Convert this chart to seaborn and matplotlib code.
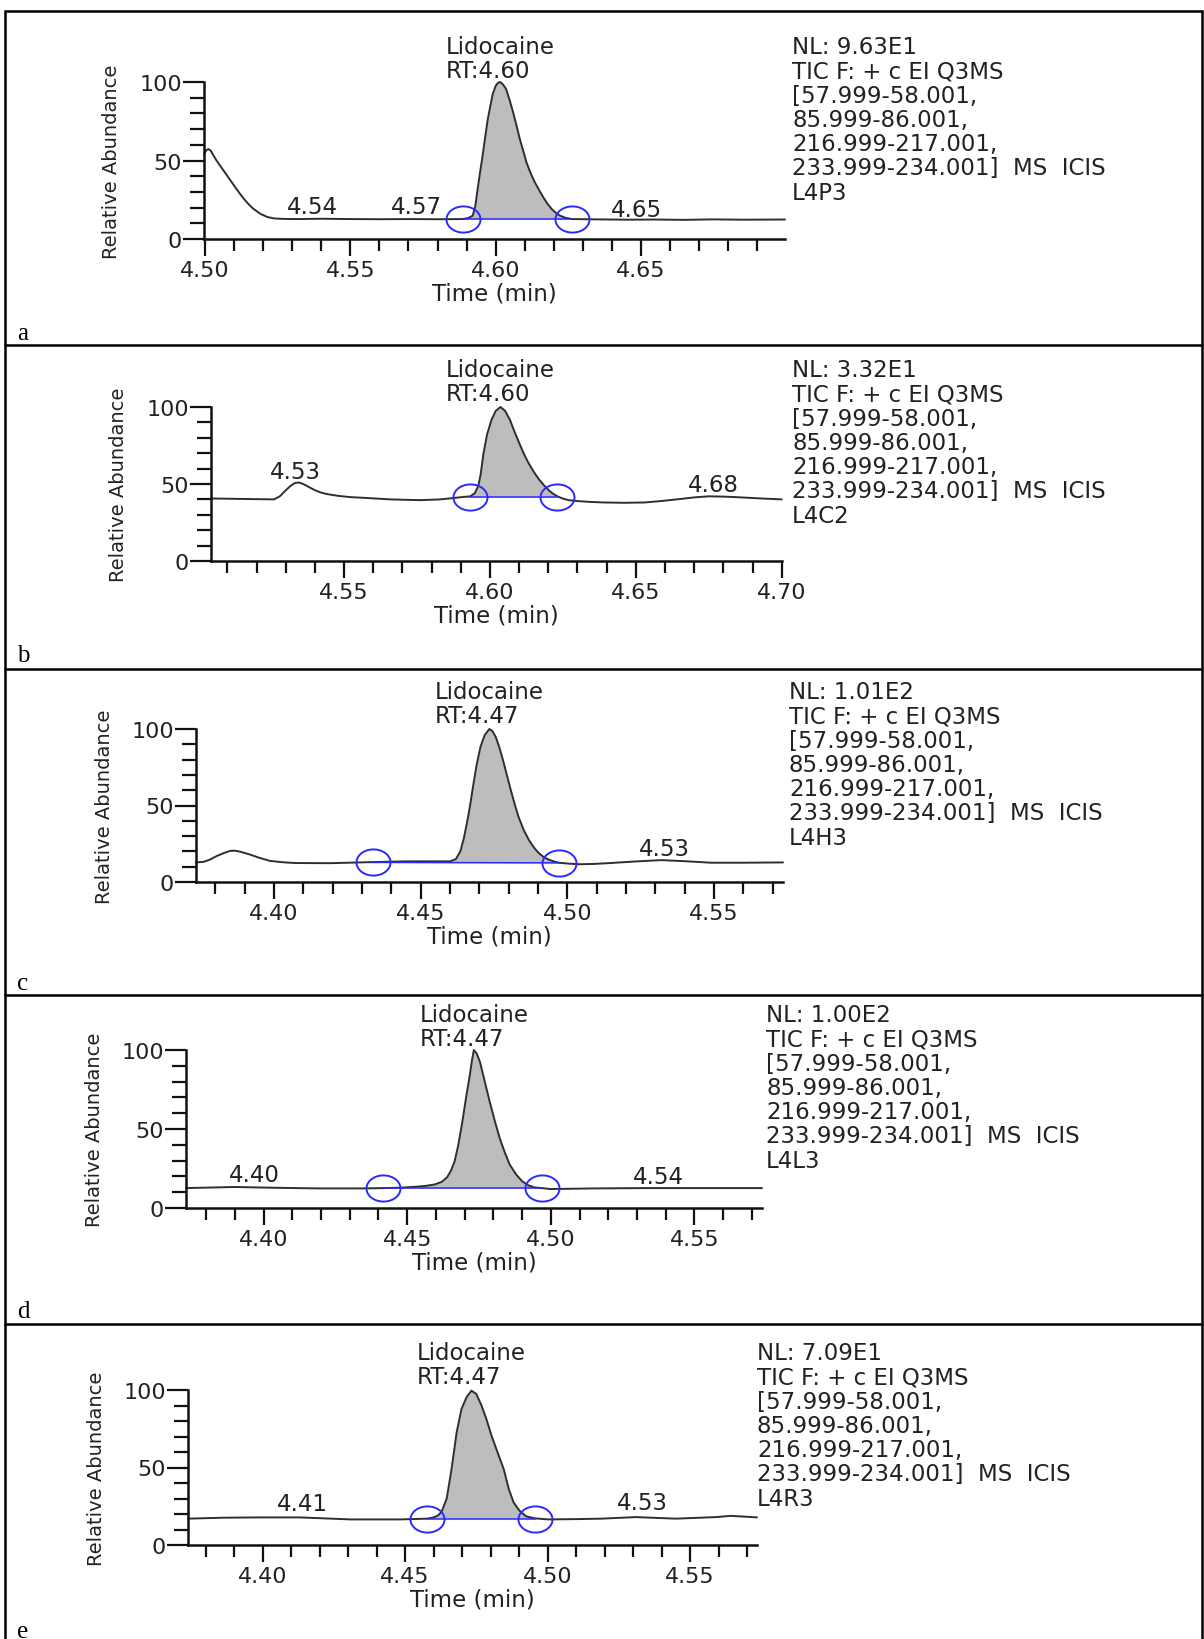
import numpy as np
import pandas as pd
import matplotlib
matplotlib.use("Agg")
import matplotlib.pyplot as plt
import seaborn as sns
from matplotlib.path import Path
from matplotlib.lines import Line2D
from matplotlib.ticker import MultipleLocator, FixedLocator, FormatStrFormatter
from matplotlib.transforms import blended_transform_factory

# ------------------------------------------------------------------ data
panel_letters = ["a", "b", "c", "d", "e"]
compound = "Lidocaine"
rt_labels = ["RT:4.60", "RT:4.60", "RT:4.47", "RT:4.47", "RT:4.47"]
nl_values = ["NL: 9.63E1", "NL: 3.32E1", "NL: 1.01E2", "NL: 1.00E2", "NL: 7.09E1"]
scan_filter = ["TIC F: + c EI Q3MS", "[57.999-58.001,", "85.999-86.001,",
               "216.999-217.001,", "233.999-234.001]  MS  ICIS"]
sample_ids = ["L4P3", "L4C2", "L4H3", "L4L3", "L4R3"]

time_a = [4.4997, 4.5005, 4.5012, 4.5020, 4.5027, 4.5040, 4.5055, 4.5076, 4.5093,
          4.5110, 4.5128, 4.5145, 4.5165, 4.5191, 4.5215, 4.5238, 4.5270, 4.5319,
          4.5400, 4.5500, 4.5600, 4.5700, 4.5800, 4.5886, 4.5905, 4.5921, 4.5930,
          4.5938, 4.5946, 4.5955, 4.5964, 4.5973, 4.5982, 4.5990, 4.6000, 4.6008,
          4.6015, 4.6025, 4.6036, 4.6048, 4.6060, 4.6072, 4.6083, 4.6095, 4.6106,
          4.6120, 4.6135, 4.6150, 4.6164, 4.6178, 4.6193, 4.6208, 4.6222, 4.6240,
          4.6262, 4.6350, 4.6450, 4.6550, 4.6650, 4.6750, 4.6850, 4.6995]
abund_a = [54.0, 56.5, 57.3, 56.3, 54.0, 50.0, 46.0, 40.5, 36.0,
           31.5, 27.0, 23.2, 19.5, 16.0, 14.0, 13.1, 12.8, 12.7,
           12.9, 12.7, 12.6, 12.7, 12.6, 12.7, 13.3, 14.8, 21.0,
           31.8, 42.0, 53.0, 65.0, 76.4, 85.0, 92.4, 97.5, 99.5,
           100.0, 98.5, 95.5, 88.5, 80.7, 72.0, 63.7, 56.0, 48.8,
           42.0, 36.0, 31.0, 26.5, 22.5, 19.0, 16.5, 14.8, 13.5,
           12.7, 12.5, 12.3, 12.4, 12.2, 12.5, 12.3, 12.4]

time_b = [4.5044, 4.5150, 4.5260, 4.5280, 4.5298, 4.5315, 4.5330, 4.5345, 4.5360,
          4.5380, 4.5400, 4.5420, 4.5440, 4.5480, 4.5520, 4.5570, 4.5660, 4.5760,
          4.5830, 4.5880, 4.5910, 4.5933, 4.5948, 4.5960, 4.5968, 4.5978, 4.5990,
          4.6005, 4.6020, 4.6036, 4.6052, 4.6069, 4.6082, 4.6096, 4.6114, 4.6132,
          4.6150, 4.6168, 4.6186, 4.6204, 4.6218, 4.6231, 4.6250, 4.6270, 4.6294,
          4.6340, 4.6390, 4.6460, 4.6530, 4.6590, 4.6640, 4.6700, 4.6750, 4.6800,
          4.6840, 4.6930, 4.7000]
abund_b = [40.6, 40.3, 40.0, 42.0, 45.5, 48.5, 50.5, 51.0, 50.0,
           48.0, 46.0, 44.5, 43.5, 42.3, 41.5, 41.0, 40.0, 39.5,
           40.0, 41.0, 41.6, 42.0, 44.0, 48.7, 56.0, 70.0, 82.0,
           91.5, 97.5, 100.0, 97.5, 91.5, 85.0, 78.6, 70.5, 63.7,
           58.0, 53.0, 49.0, 45.5, 43.5, 42.0, 40.5, 39.5, 39.0,
           38.4, 38.0, 37.8, 38.0, 39.0, 40.0, 41.3, 42.0, 41.8,
           41.5, 40.6, 40.0]

time_c = [4.3734, 4.3760, 4.3780, 4.3805, 4.3830, 4.3850, 4.3865, 4.3885, 4.3917,
          4.3950, 4.3986, 4.4030, 4.4073, 4.4190, 4.4336, 4.4450, 4.4600, 4.4620,
          4.4635, 4.4647, 4.4661, 4.4670, 4.4678, 4.4690, 4.4704, 4.4718, 4.4734,
          4.4745, 4.4756, 4.4769, 4.4782, 4.4795, 4.4808, 4.4821, 4.4834, 4.4851,
          4.4869, 4.4886, 4.4903, 4.4920, 4.4938, 4.4955, 4.4970, 4.5005, 4.5040,
          4.5090, 4.5147, 4.5230, 4.5320, 4.5400, 4.5490, 4.5600, 4.5735]
abund_c = [12.8, 13.2, 14.5, 17.0, 19.0, 20.3, 20.5, 19.8, 18.0,
           15.8, 13.8, 12.9, 12.4, 12.3, 13.0, 13.5, 13.5, 15.0,
           20.0, 28.5, 42.0, 52.0, 62.0, 76.0, 88.5, 96.0, 100.0,
           98.5, 94.7, 87.5, 78.6, 69.0, 59.4, 50.5, 42.3, 34.0,
           27.4, 22.5, 18.8, 16.2, 14.5, 13.4, 12.6, 12.0, 11.6,
           11.8, 12.4, 13.4, 14.3, 13.6, 12.6, 12.6, 12.8]

time_d = [4.3730, 4.3900, 4.4040, 4.4190, 4.4350, 4.4417, 4.4480, 4.4526, 4.4565,
          4.4596, 4.4620, 4.4639, 4.4652, 4.4665, 4.4678, 4.4692, 4.4705, 4.4718,
          4.4725, 4.4732, 4.4742, 4.4753, 4.4770, 4.4787, 4.4805, 4.4822, 4.4840,
          4.4857, 4.4880, 4.4901, 4.4922, 4.4944, 4.4970, 4.4997, 4.5153, 4.5327,
          4.5500, 4.5735]
abund_d = [12.6, 13.3, 12.8, 12.4, 12.4, 12.6, 12.9, 13.4, 14.0,
           14.9, 16.5, 19.5, 23.5, 29.5, 40.0, 54.7, 70.0, 84.2,
           93.0, 100.0, 97.8, 92.6, 80.0, 67.4, 55.0, 44.2, 35.0,
           27.4, 21.0, 16.8, 14.3, 13.0, 12.6, 12.0, 12.4, 12.6,
           12.6, 12.6]

time_e = [4.3738, 4.3860, 4.3990, 4.4130, 4.4240, 4.4310, 4.4480, 4.4577, 4.4600,
          4.4615, 4.4628, 4.4646, 4.4663, 4.4681, 4.4698, 4.4716, 4.4733, 4.4750,
          4.4768, 4.4785, 4.4803, 4.4824, 4.4846, 4.4864, 4.4881, 4.4902, 4.4925,
          4.4955, 4.5003, 4.5100, 4.5189, 4.5310, 4.5450, 4.5590, 4.5643, 4.5700,
          4.5735]
abund_e = [17.0, 17.6, 17.8, 17.8, 17.0, 16.5, 16.5, 17.0, 17.8,
           19.0, 21.4, 30.0, 49.0, 72.8, 87.8, 95.5, 99.6, 97.4,
           90.0, 81.4, 70.7, 60.0, 49.0, 36.0, 27.4, 22.0, 18.5,
           17.2, 16.5, 16.7, 17.0, 18.0, 17.0, 18.0, 18.8, 18.2,
           17.8]

apex_time = [4.6015, 4.6036, 4.4734, 4.4732, 4.4733]
boundary_time = [(4.5886, 4.6262), (4.5933, 4.6231), (4.4336, 4.4970),
                 (4.4417, 4.4970), (4.4577, 4.4955)]
boundary_abund = [(12.7, 12.7), (41.5, 41.5), (12.8, 12.5), (12.6, 12.6), (17.0, 17.0)]

label_text = [["4.54", "4.57", "4.65"], ["4.53", "4.68"], ["4.53"], ["4.40", "4.54"], ["4.41", "4.53"]]
label_time = [[4.5369, 4.5726, 4.6485], [4.5333, 4.6767], [4.5332], [4.3969, 4.5373], [4.4138, 4.5332]]
label_abund = [[20.4, 20.4, 19.0], [58.4, 50.0], [22.0], [21.0, 20.0], [26.8, 27.2]]

x_limits = [(4.4997, 4.6995), (4.5044, 4.7001), (4.3734, 4.5735), (4.3730, 4.5735), (4.3738, 4.5735)]

times = [time_a, time_b, time_c, time_d, time_e]
abunds = [abund_a, abund_b, abund_c, abund_d, abund_e]

# ------------------------------------------------------------------ layout (pixels)
W, H = 1204, 1640
axes_px = [  # left, right, top, bottom
    (204, 785, 83, 240),
    (211, 782, 408, 562),
    (196, 783, 730, 883),
    (186, 762, 1051, 1209),
    (188, 757, 1391, 1546),
]
block_x = [792, 792, 789, 766, 757]
first_line_center = [45, 368, 690, 1013, 1351]
letter_baseline = [340, 662, 990, 1318, 1638]
dividers = [346, 670, 996, 1325]

TXT = "#222222"
CURVE = "#2e2e2e"
FILL = "#bdbdbd"
BLUE = "#2a2aff"

sns.set_theme(style="ticks")
plt.rcParams["font.family"] = ["DejaVu Sans"]
plt.rcParams["text.color"] = TXT
plt.rcParams["axes.labelcolor"] = TXT
plt.rcParams["xtick.color"] = "#111111"
plt.rcParams["ytick.color"] = "#111111"
plt.rcParams["xtick.labelcolor"] = TXT
plt.rcParams["ytick.labelcolor"] = TXT

fig = plt.figure(figsize=(W / 100, H / 100), dpi=100)
fig.patch.set_facecolor("white")

theta = np.linspace(0, 2 * np.pi, 60)
ellipse = Path(np.column_stack([1.3 * np.cos(theta), np.sin(theta)]), closed=True)

FS = 16.5
FS_TICK = 16
for i in range(5):
    l, r, t, b = axes_px[i]
    ax = fig.add_axes([l / W, 1 - b / H, (r - l) / W, (b - t) / H])
    df = pd.DataFrame({"Time (min)": times[i], "Relative Abundance": abunds[i]})
    sns.lineplot(data=df, x="Time (min)", y="Relative Abundance", ax=ax,
                 color=CURVE, linewidth=1.4, estimator=None, sort=False)
    for ln in ax.lines:
        ln.set_clip_on(False)
        ln.set_solid_joinstyle("round")

    x = np.asarray(times[i])
    y = np.asarray(abunds[i])
    (t1, t2), (b1, b2) = boundary_time[i], boundary_abund[i]
    base = np.interp(x, [t1, t2], [b1, b2])
    mask = (x >= t1) & (x <= t2)
    ax.fill_between(x, y, base, where=mask & (y >= base), color=FILL, linewidth=0,
                    interpolate=True, zorder=1)
    ax.plot([t1, t2], [b1, b2], color=BLUE, linewidth=1.1, zorder=3, clip_on=False)
    ax.plot([t1, t2], [b1, b2], linestyle="none", marker=ellipse, markersize=24.5,
            markerfacecolor="none", markeredgecolor=BLUE, markeredgewidth=1.4,
            zorder=4, clip_on=False)

    ax.set_xlim(*x_limits[i])
    ax.set_ylim(0, 100)
    ax.xaxis.set_major_locator(MultipleLocator(0.05))
    ax.xaxis.set_minor_locator(MultipleLocator(0.01))
    ax.yaxis.set_major_locator(FixedLocator([0, 50, 100]))
    ax.yaxis.set_minor_locator(MultipleLocator(10))
    ax.xaxis.set_major_formatter(FormatStrFormatter("%.2f"))
    ax.set_facecolor("none")
    for s in ["top", "right"]:
        ax.spines[s].set_visible(False)
    for s in ["left", "bottom"]:
        ax.spines[s].set_linewidth(1.8)
        ax.spines[s].set_color("#111111")
    ax.tick_params(axis="x", which="major", length=12, width=1.6, pad=3, labelsize=FS_TICK)
    ax.tick_params(axis="x", which="minor", length=8.5, width=1.6)
    ax.tick_params(axis="y", which="major", length=15, width=1.6, pad=1, labelsize=FS_TICK)
    ax.tick_params(axis="y", which="minor", length=10, width=1.6)

    ax.set_xlabel("Time (min)", fontsize=FS)
    ax.xaxis.set_label_coords(0.5, -54 / (b - t))
    ax.xaxis.label.set_va("center")
    ax.set_ylabel("Relative Abundance", fontsize=14)
    ax.yaxis.set_label_coords(-92 / (r - l), 0.5)
    ax.yaxis.label.set_va("center")

    for txt, lx, ly in zip(label_text[i], label_time[i], label_abund[i]):
        ax.text(lx, ly, txt, ha="center", va="center", fontsize=FS, color=TXT)

    tr = blended_transform_factory(ax.transData, fig.transFigure)
    ax.text(apex_time[i], 1 - (first_line_center[i] - 9) / H,
            compound + "\n" + rt_labels[i], transform=tr, ha="center",
            va="top", multialignment="left", fontsize=FS, color=TXT,
            linespacing=1.04)

    block = "\n".join([nl_values[i]] + scan_filter + [sample_ids[i]])
    fig.text(block_x[i] / W, 1 - (first_line_center[i] - 9) / H, block,
             ha="left", va="top", fontsize=FS, color=TXT, linespacing=1.07)

    fig.text(17 / W, 1 - letter_baseline[i] / H, panel_letters[i], ha="left",
             va="baseline", fontsize=18, family=["Liberation Serif"], color="black")

# frame lines
lw_frame = 1.8
def hline(yp):
    fig.add_artist(Line2D([5 / W, 1202 / W], [1 - yp / H, 1 - yp / H],
                          transform=fig.transFigure, color="black", linewidth=lw_frame))
hline(12)
for yp in dividers:
    hline(yp)
for xp in (5, 1202):
    fig.add_artist(Line2D([xp / W, xp / W], [1 - 12 / H, 0],
                          transform=fig.transFigure, color="black", linewidth=lw_frame))

fig.savefig("out.png", dpi=100, facecolor="white")
